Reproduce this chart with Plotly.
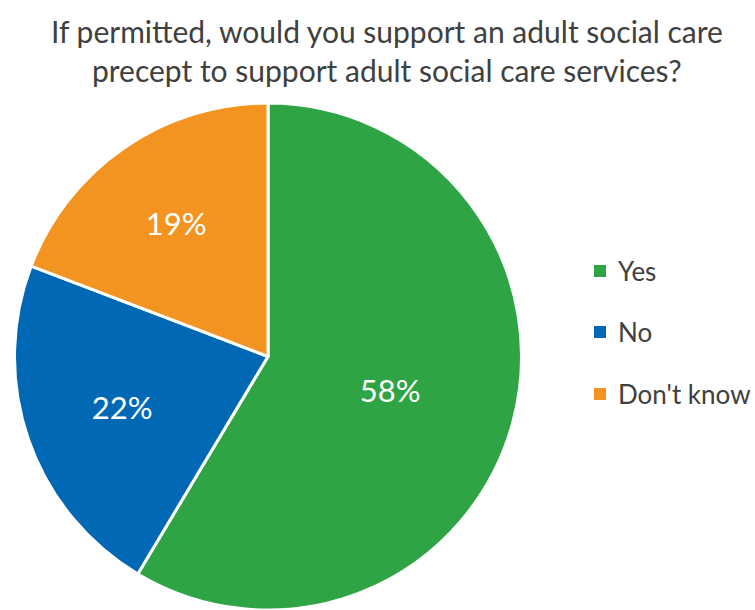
import plotly.graph_objects as go

# Survey responses
labels = ["Yes", "No", "Don't know"]
values = [58, 22, 19]
colors = ["#2EA444", "#0068B5", "#F39420"]

title_lines = ["If permitted, would you support an adult social care",
               "precept to support adult social care services?"]

W, H = 755, 610
FONT = "Lato"

fig = go.Figure(
    go.Pie(
        labels=labels,
        values=values,
        sort=False,
        direction="clockwise",
        rotation=0,
        marker=dict(colors=colors, line=dict(color="white", width=3)),
        texttemplate="%{value}%",
        textinfo="text",
        textposition="inside",
        insidetextorientation="horizontal",
        textfont=dict(family=FONT, size=31, color="white"),
        hoverinfo="label+value",
        domain=dict(x=[14 / W, 522 / W], y=[0, 1 - 103 / H]),
        showlegend=False,
    )
)

# Legend built as coloured squares with labels beside them
legend_x = 594
legend_y = [271, 332, 394]
sq = 12
shapes = []
annotations = []
for lab, col, yc in zip(labels, colors, legend_y):
    shapes.append(dict(
        type="rect", xref="paper", yref="paper",
        x0=legend_x / W, x1=(legend_x + sq) / W,
        y0=1 - (yc + sq / 2) / H, y1=1 - (yc - sq / 2) / H,
        fillcolor=col, line=dict(width=0),
    ))
    annotations.append(dict(
        x=(legend_x + 22) / W, y=1 - yc / H, xref="paper", yref="paper",
        text=lab, showarrow=False, xanchor="left", yanchor="middle",
        font=dict(family=FONT, size=26, color="#404040"),
    ))

# Two-line heading
for line, yc in zip(title_lines, [31, 70]):
    annotations.append(dict(
        x=387 / W, y=1 - yc / H, xref="paper", yref="paper",
        text=line, showarrow=False, xanchor="center", yanchor="middle",
        font=dict(family=FONT, size=30, color="#404040"),
    ))

fig.update_layout(
    width=W, height=H,
    margin=dict(l=0, r=0, t=0, b=0),
    paper_bgcolor="white",
    plot_bgcolor="white",
    shapes=shapes,
    annotations=annotations,
)

fig.write_html("out.html")
